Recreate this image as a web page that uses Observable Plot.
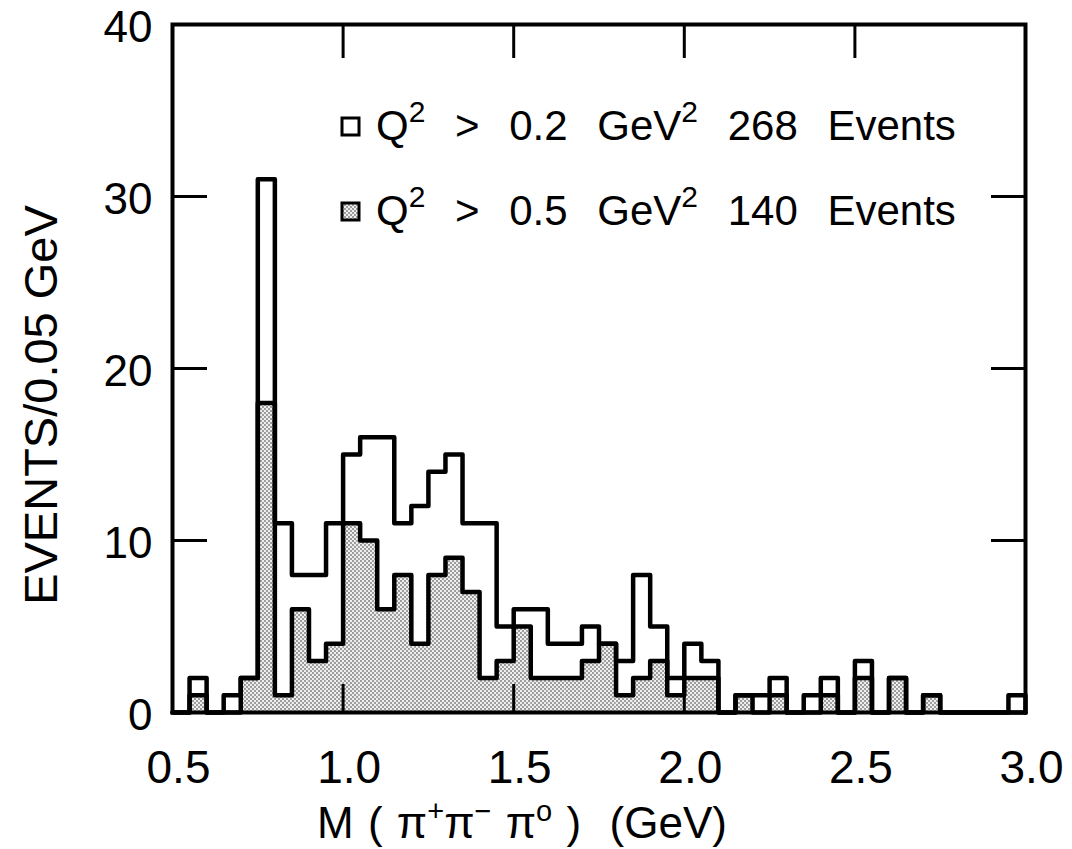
<!DOCTYPE html>
<html>
<head>
<meta charset="utf-8">
<script src="https://cdn.jsdelivr.net/npm/d3@7"></script>
<script src="https://cdn.jsdelivr.net/npm/@observablehq/plot@0.6"></script>
<style>
  html, body { margin: 0; padding: 0; background: #fff; }
  #chart { width: 1072px; height: 849px; }
</style>
</head>
<body>
<div id="chart"></div>
<script>
// ---- Data ----
// Left edges of the 0.05 GeV bins, M(π+π−π0) in GeV
const binLeft = [0.50,0.55,0.60,0.65,0.70,0.75,0.80,0.85,0.90,0.95,
                 1.00,1.05,1.10,1.15,1.20,1.25,1.30,1.35,1.40,1.45,
                 1.50,1.55,1.60,1.65,1.70,1.75,1.80,1.85,1.90,1.95,
                 2.00,2.05,2.10,2.15,2.20,2.25,2.30,2.35,2.40,2.45,
                 2.50,2.55,2.60,2.65,2.70,2.75,2.80,2.85,2.90,2.95];
const binWidth = 0.05;
// Q^2 > 0.2 GeV^2 (268 events, open histogram)
const eventsQ2gt02 = [0,2,0,1,2,31,11,8,8,11,
                      15,16,16,11,12,14,15,11,11,5,
                      6,6,4,4,5,4,3,8,5,2,
                      4,3,0,1,1,2,0,1,2,0,
                      3,0,2,0,1,0,0,0,0,1];
// Q^2 > 0.5 GeV^2 (140 events, shaded histogram)
const eventsQ2gt05 = [0,1,0,0,2,18,1,6,3,4,
                      11,10,6,8,4,8,9,7,2,3,
                      5,2,2,2,3,4,1,2,3,1,
                      2,2,0,1,0,1,0,0,1,0,
                      2,0,2,0,1,0,0,0,0,0];
const xTickValues = [0.5, 1.0, 1.5, 2.0, 2.5, 3.0];
const xInnerTicks = [1.0, 1.5, 2.0, 2.5];
const yTickValues = [0, 10, 20, 30, 40];
const yInnerTicks = [10, 20, 30];
const legendLabels = [
  {q: "0.2", n: "268"},
  {q: "0.5", n: "140"}
];

// ---- Tables built from the arrays ----
const bins = binLeft.map((x, i) => ({x1: x, x2: x + binWidth, all: eventsQ2gt02[i], high: eventsQ2gt05[i]}));
function stepPoints(values) {
  const pts = [{x: binLeft[0], y: 0}];
  binLeft.forEach((x, i) => pts.push({x, y: values[i]}));
  const last = binLeft[binLeft.length - 1] + binWidth;
  pts.push({x: last, y: values[values.length - 1]});
  pts.push({x: last, y: 0});
  return pts;
}
const stepAll = stepPoints(eventsQ2gt02);
const stepHigh = stepPoints(eventsQ2gt05);

const FONT = "Liberation Sans, Arial, sans-serif";

const chart = Plot.plot({
  width: 1072,
  height: 849,
  marginLeft: 172,
  marginRight: 47,
  marginTop: 24,
  marginBottom: 137,
  style: {fontFamily: FONT, background: "white", color: "black"},
  x: {domain: [0.5, 3.0], label: null, axis: null},
  y: {domain: [0, 40], label: null, axis: null},
  marks: [
    Plot.rectY(bins, {x1: "x1", x2: "x2", y: "high", fill: "url(#stipple)", inset: 0}),
    Plot.line(stepHigh, {x: "x", y: "y", curve: "step-after", stroke: "black", strokeWidth: 4.5, strokeLinejoin: "round"}),
    Plot.line(stepAll, {x: "x", y: "y", curve: "step-after", stroke: "black", strokeWidth: 4.5, strokeLinejoin: "round"}),
    Plot.frame({stroke: "black", strokeWidth: 4}),
    // tick labels
    Plot.axisX(xTickValues, {anchor: "bottom", tickSize: 0, tickPadding: 38, fontSize: 46, dx: 6, tickFormat: d3.format(".1f"), label: null}),
    Plot.axisY(yTickValues, {anchor: "left", tickSize: 0, tickPadding: 20, fontSize: 44, dy: 3, label: null}),
    // inward tick marks
    Plot.axisX(xInnerTicks, {anchor: "bottom", tickSize: -28, strokeWidth: 3, fill: "none", label: null}),
    Plot.axisX(xInnerTicks, {anchor: "top", tickSize: -33, strokeWidth: 3, fill: "none", label: null}),
    Plot.axisY(yInnerTicks, {anchor: "left", tickSize: -35, strokeWidth: 3, fill: "none", label: null}),
    Plot.axisY(yInnerTicks, {anchor: "right", tickSize: -35, strokeWidth: 3, fill: "none", label: null})
  ]
});

const svg = d3.select(chart);
// stipple pattern for the shaded histogram
const defs = svg.insert("defs", ":first-child");
const pat = defs.append("pattern").attr("id", "stipple").attr("patternUnits", "userSpaceOnUse")
  .attr("width", 4).attr("height", 4);
pat.append("rect").attr("width", 4).attr("height", 4).attr("fill", "#eeeeee");
pat.append("circle").attr("cx", 1).attr("cy", 1).attr("r", 0.9).attr("fill", "#777");
pat.append("circle").attr("cx", 3).attr("cy", 3).attr("r", 0.9).attr("fill", "#777");

// legend
const legendG = svg.append("g").attr("font-family", FONT).attr("fill", "black").attr("text-anchor", "start");
legendLabels.forEach((d, i) => {
  const yb = 140 + i * 85;
  legendG.append("rect").attr("x", 342).attr("y", yb - 22).attr("width", 17).attr("height", 17)
    .attr("fill", i === 0 ? "white" : "url(#stipple)").attr("stroke", "black").attr("stroke-width", 3);
  const t = legendG.append("text").attr("x", 376).attr("y", yb).attr("font-size", 42)
    .attr("text-anchor", "start").attr("word-spacing", 18);
  t.append("tspan").text("Q");
  t.append("tspan").attr("dy", -18).attr("font-size", 30).text("2");
  t.append("tspan").attr("dy", 18).text(" > " + d.q + " GeV");
  t.append("tspan").attr("dy", -18).attr("font-size", 30).text("2");
  t.append("tspan").attr("dy", 18).text(" " + d.n + " Events");
});

// axis titles
svg.append("text").attr("font-family", FONT).attr("font-size", 47)
  .attr("text-anchor", "middle").attr("transform", "translate(57,405) rotate(-90)")
  .text("EVENTS/0.05 GeV");

const xt = svg.append("text").attr("font-family", FONT).attr("font-size", 44)
  .attr("text-anchor", "middle").attr("x", 522).attr("y", 838).attr("word-spacing", 2);
xt.append("tspan").text("M ( π");
xt.append("tspan").attr("dy", -17).attr("font-size", 29).text("+");
xt.append("tspan").attr("dy", 17).text("π");
xt.append("tspan").attr("dy", -17).attr("font-size", 29).text("−");
xt.append("tspan").attr("dy", 17).text(" π");
xt.append("tspan").attr("dy", -17).attr("font-size", 29).text("o");
xt.append("tspan").attr("dy", 17).text(" )  (GeV)");

document.getElementById("chart").appendChild(chart);
</script>
</body>
</html>
